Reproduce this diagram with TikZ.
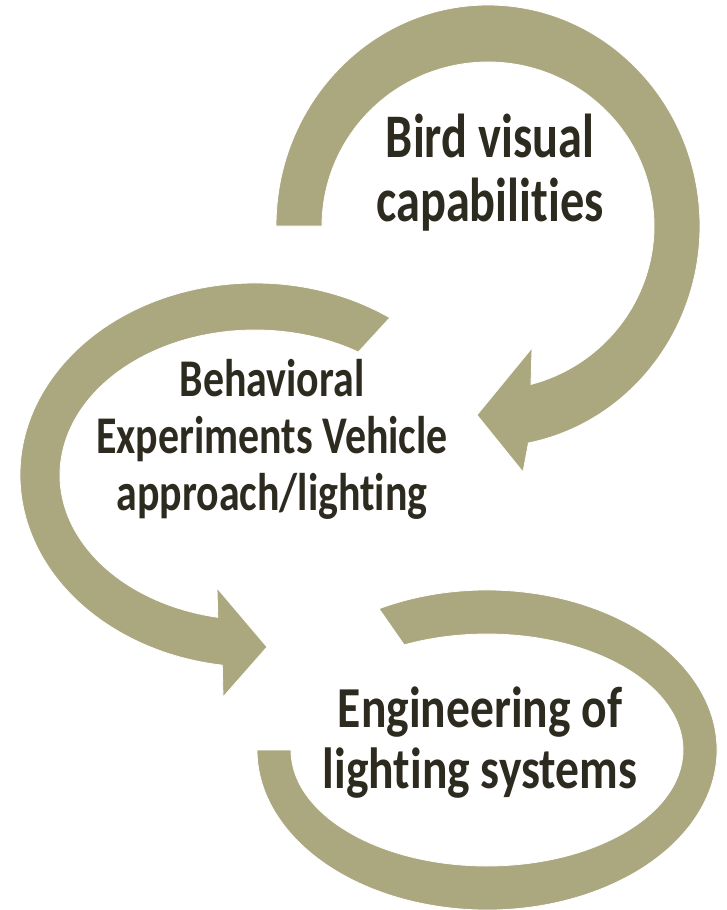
\documentclass[tikz,border=0pt]{standalone}
\usepackage{fontspec}
\setmainfont{Carlito}[Ligatures={NoCommon}]
\usetikzlibrary{positioning,calc}

\definecolor{olivearc}{RGB}{171,167,127}
\definecolor{darktext}{RGB}{45,42,31}

\begin{document}
\begin{tikzpicture}[x=1pt,y=1pt,
    ring/.style={fill=olivearc, draw=white, line width=0.8pt},
    label/.style={align=center, text=darktext, font=\bfseries, anchor=base}]
        % the page
        \useasboundingbox (0,0) rectangle (726,-910);

        % top arrow, round the bird
        \begin{scope}[shift={(488,-226)}]
          \path[ring] (180:212pt and 221pt)
            arc[start angle=180, end angle=-79, x radius=212pt, y radius=221pt]
            -- (35,-246) -- (-11,-189) -- (44,-122)
            -- (-75:166pt and 164pt)
            arc[start angle=-75, end angle=180, x radius=166pt, y radius=164pt] -- cycle;
        \end{scope}

        % middle arrow, round the experiments
        \begin{scope}[shift={(255,-475)}]
          \path[ring] (55:235pt and 192pt)
            arc[start angle=55, end angle=262, x radius=235pt, y radius=192pt]
            -- (-32,-222) -- (12,-172) -- (-38,-113)
            -- (259:195pt and 145pt)
            arc[start angle=259, end angle=58, x radius=195pt, y radius=145pt] -- cycle;
        \end{scope}

        % bottom ring, no head
        \begin{scope}[shift={(487,-750)}]
          \path[ring] (118:230pt and 160pt)
            arc[start angle=118, end angle=-180, x radius=230pt, y radius=160pt]
            -- (-180:196pt and 116pt)
            arc[start angle=-180, end angle=115, x radius=196pt, y radius=116pt] -- cycle;
        \end{scope}

        % and the texts (last line on the given baseline)
        \node[label, xscale=0.78, font=\bfseries\fontsize{62}{64}\selectfont] (bird) at (490,-221)
          {Bird visual\\capabilities};
        \node[label, xscale=0.79, font=\bfseries\fontsize{53}{57}\selectfont] (behav) at (272,-510)
          {Behavioral\\Experiments Vehicle\\approach/lighting};
        \node[label, xscale=0.82, font=\bfseries\fontsize{58}{61}\selectfont] (engin) at (480,-788)
          {Engineering of\\lighting systems};
\end{tikzpicture}
\end{document}
